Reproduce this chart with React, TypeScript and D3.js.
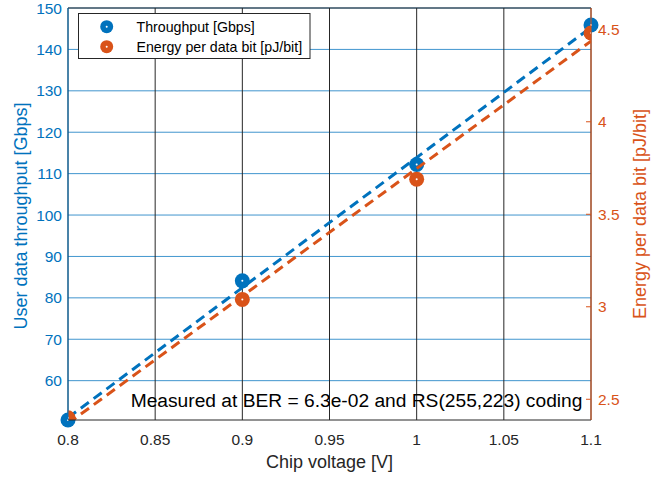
import React from "react";
import * as d3 from "d3";

// Chip voltage sweep and measured results
const voltages = [0.8, 0.9, 1.0, 1.1];
const throughput = [50.5, 84.1, 112.2, 145.9]; // Gbps
const energy = [2.4, 3.04, 3.69, 4.48]; // pJ/bit

const xTicks = [0.8, 0.85, 0.9, 0.95, 1.0, 1.05, 1.1];
const xTickLabels = ["0.8", "0.85", "0.9", "0.95", "1", "1.05", "1.1"];
const leftTicks = [60, 70, 80, 90, 100, 110, 120, 130, 140, 150];
const rightTicks = [2.5, 3, 3.5, 4, 4.5];
const rightTickLabels = ["2.5", "3", "3.5", "4", "4.5"];

const seriesNames = ["Throughput [Gbps]", "Energy per data bit [pJ/bit]"];
const note = "Measured at BER = 6.3e-02 and RS(255,223) coding";

const BLUE = "#0072BD";
const ORANGE = "#D95319";
const FONT = "'Liberation Sans', Arial, Helvetica, sans-serif";

// Ordinary least-squares line through the measured points
function linearFit(xs: number[], ys: number[]) {
  const mx = d3.mean(xs)!;
  const my = d3.mean(ys)!;
  let num = 0;
  let den = 0;
  xs.forEach((x, i) => {
    num += (x - mx) * (ys[i] - my);
    den += (x - mx) * (x - mx);
  });
  const slope = num / den;
  return (x: number) => my + slope * (x - mx);
}

export default function App() {
  const W = 661;
  const H = 477;
  const left = 68;
  const right = 591;
  const top = 8;
  const bottom = 420;

  const x = d3.scaleLinear().domain([0.8, 1.1]).range([left, right]);
  const yL = d3.scaleLinear().domain([50.5, 150]).range([bottom, top]);
  const yR = d3.scaleLinear().domain([2.388, 4.615]).range([bottom, top]);

  const fitT = linearFit(voltages, throughput);
  const fitE = linearFit(voltages, energy);
  const xEnds = d3.extent(voltages) as [number, number];

  const lineT = d3
    .line<number>()
    .x((v) => x(v))
    .y((v) => yL(fitT(v)));
  const lineE = d3
    .line<number>()
    .x((v) => x(v))
    .y((v) => yR(fitE(v)));

  const marker = (cx: number, cy: number, color: string, r: number, key: string) => (
    <g key={key}>
      <circle cx={cx} cy={cy} r={r} fill={color} />
      <circle cx={cx} cy={cy} r={1} fill="#fff" />
    </g>
  );

  return (
    <svg
      width={W}
      height={H}
      style={{ position: "absolute", left: 0, top: 0, background: "#fff" }}
      fontFamily={FONT}
    >
      <defs>
        <clipPath id="plotArea">
          <rect x={left} y={top} width={right - left} height={bottom - top} />
        </clipPath>
      </defs>
      <rect x={0} y={0} width={W} height={H} fill="#fff" />

      {/* horizontal grid (left axis) */}
      {leftTicks.map((t) => (
        <line
          key={"hg" + t}
          x1={left}
          x2={right}
          y1={yL(t)}
          y2={yL(t)}
          stroke={BLUE}
          strokeOpacity={0.75}
          strokeWidth={1}
        />
      ))}
      {/* vertical grid */}
      {xTicks.map((t) => (
        <line
          key={"vg" + t}
          x1={x(t)}
          x2={x(t)}
          y1={top}
          y2={bottom}
          stroke="#262626"
          strokeWidth={1}
        />
      ))}

      {/* throughput fit and measurements */}
      <path
        d={lineT(xEnds) ?? ""}
        fill="none"
        stroke={BLUE}
        strokeWidth={3}
        strokeDasharray="10,6"
      />
      {voltages.map((v, i) => marker(x(v), yL(throughput[i]), BLUE, 7.5, "mt" + i))}

      {/* energy fit and measurements */}
      <g clipPath="url(#plotArea)">
        <path
          d={lineE(xEnds) ?? ""}
          fill="none"
          stroke={ORANGE}
          strokeWidth={3}
          strokeDasharray="10,6"
        />
        {voltages.map((v, i) => marker(x(v), yR(energy[i]), ORANGE, 7.5, "me" + i))}
      </g>

      {/* axes frame */}
      <line x1={left} x2={right} y1={top} y2={top} stroke="#262626" strokeWidth={1} />
      <line x1={left} x2={right} y1={bottom} y2={bottom} stroke="#262626" strokeWidth={1} />
      <line x1={left} x2={left} y1={top} y2={bottom} stroke={BLUE} strokeWidth={1} />
      <line x1={right} x2={right} y1={top} y2={bottom} stroke={ORANGE} strokeWidth={1} />

      {/* x tick labels */}
      {xTicks.map((t, i) => (
        <text
          key={"xt" + t}
          x={x(t)}
          y={444.5}
          textAnchor="middle"
          fontSize={15.5}
          fill="#262626"
        >
          {xTickLabels[i]}
        </text>
      ))}
      <text x={(left + right) / 2} y={467.5} textAnchor="middle" fontSize={18} fill="#262626">
        Chip voltage [V]
      </text>

      {/* left axis labels */}
      {leftTicks.map((t) => (
        <text
          key={"lt" + t}
          x={62}
          y={yL(t)}
          dy="0.36em"
          textAnchor="end"
          fontSize={15.5}
          fill={BLUE}
        >
          {t}
        </text>
      ))}
      <text
        transform={`translate(26.5,${(top + bottom) / 2 + 2}) rotate(-90)`}
        textAnchor="middle"
        fontSize={18}
        fill={BLUE}
      >
        User data throughput [Gbps]
      </text>

      {/* right axis ticks and labels */}
      {rightTicks.map((t, i) => (
        <g key={"rt" + t}>
          <line x1={right - 5} x2={right} y1={yR(t)} y2={yR(t)} stroke={ORANGE} strokeWidth={1} />
          <text x={598} y={yR(t)} dy="0.36em" textAnchor="start" fontSize={15.5} fill={ORANGE}>
            {rightTickLabels[i]}
          </text>
        </g>
      ))}
      <text
        transform={`translate(646,${(top + bottom) / 2}) rotate(-90)`}
        textAnchor="middle"
        fontSize={18}
        fill={ORANGE}
      >
        Energy per data bit [pJ/bit]
      </text>

      {/* legend */}
      <rect x={78.5} y={13.5} width={231.5} height={45} fill="#fff" stroke="#262626" strokeWidth={1} />
      {marker(106.7, 26.7, BLUE, 6.5, "lg0")}
      {marker(106.7, 46.7, ORANGE, 6.5, "lg1")}
      <text x={136.5} y={26.7} dy="0.36em" fontSize={14.2} fill="#000">
        {seriesNames[0]}
      </text>
      <text x={136.5} y={46.7} dy="0.36em" fontSize={14.2} fill="#000">
        {seriesNames[1]}
      </text>

      {/* measurement note */}
      <text x={130.7} y={406.5} fontSize={19.2} fill="#000">
        {note}
      </text>
    </svg>
  );
}
